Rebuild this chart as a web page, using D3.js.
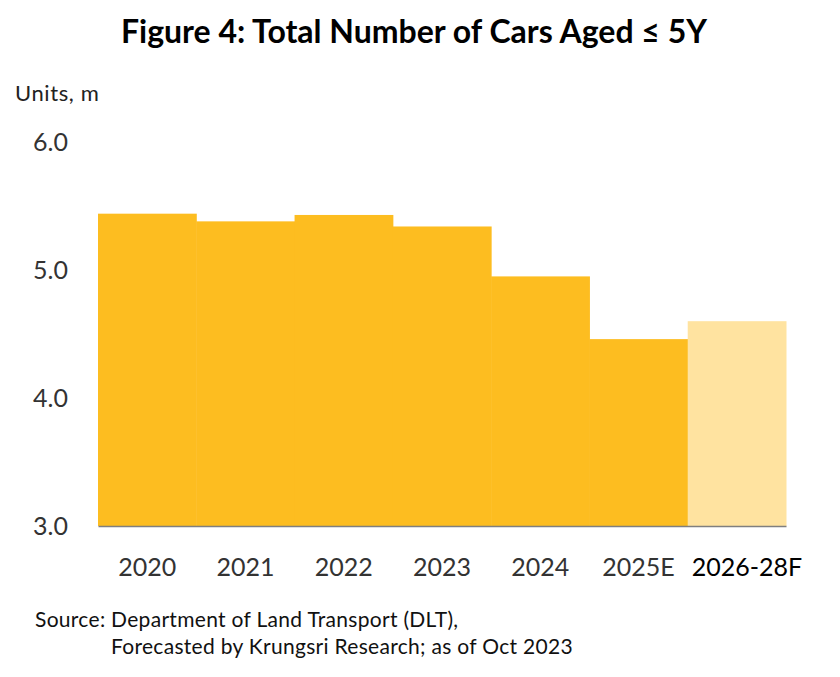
<!DOCTYPE html>
<html>
<head>
<meta charset="utf-8">
<script src="https://cdn.jsdelivr.net/npm/d3@7"></script>
<style>
  body { margin: 0; background: #fff; }
  svg { display: block; font-family: Lato, "Open Sans", sans-serif; }
</style>
</head>
<body>
<svg id="chart"></svg>
<script>
// data
const categories = ["2020", "2021", "2022", "2023", "2024", "2025E", "2026-28F"];
const values = [5.44, 5.38, 5.43, 5.34, 4.95, 4.46, 4.60];
const forecast = [false, false, false, false, false, false, true];
const yTicks = [3, 4, 5, 6];

const width = 840, height = 677;
const margin = {top: 142, right: 54, bottom: 151, left: 98};

const svg = d3.select("#chart").attr("width", width).attr("height", height);

const x = d3.scaleBand()
    .domain(categories)
    .range([margin.left, width - margin.right])
    .padding(0);

const y = d3.scaleLinear()
    .domain([3, 6])
    .range([height - margin.bottom, margin.top]);

// title
svg.append("text")
    .attr("x", 414).attr("y", 43)
    .attr("text-anchor", "middle")
    .attr("font-size", 32).attr("font-weight", "bold")
    .attr("fill", "#000")
    .text("Figure 4: Total Number of Cars Aged \u2264 5Y");

svg.append("text")
    .attr("x", 15).attr("y", 101)
    .attr("font-size", 22).attr("fill", "#222")
    .attr("letter-spacing", 0.6)
    .text("Units, m");

// bars
svg.append("g").selectAll("rect")
    .data(values)
    .enter()
    .append("rect")
    .attr("x", (d, i) => x(categories[i]))
    .attr("width", x.bandwidth() + 0.5)
    .attr("y", d => y(d))
    .attr("height", d => y(3) - y(d))
    .attr("fill", (d, i) => forecast[i] ? "#FFE3A0" : "#FDBD20");

// y axis (labels only)
const yAxis = d3.axisLeft(y).tickValues(yTicks).tickFormat(d3.format(".1f")).tickSize(0).tickPadding(30);
svg.append("g")
    .attr("transform", `translate(${margin.left},0)`)
    .call(yAxis)
    .call(g => g.select(".domain").remove())
    .selectAll("text")
    .attr("font-size", 25)
    .attr("font-family", "Lato, sans-serif")
    .attr("fill", "#333");

// x axis
const xAxis = d3.axisBottom(x).tickSize(0).tickPadding(32);
svg.append("g")
    .attr("transform", `translate(0,${y(3)})`)
    .call(xAxis)
    .call(g => g.select(".domain").attr("stroke", "#7f7f7f").attr("stroke-width", 1.5))
    .selectAll("text")
    .attr("font-size", 25)
    .attr("font-family", "Lato, sans-serif")
    .attr("dx", (d, i) => forecast[i] ? 10 : 0)
    .attr("fill", (d, i) => forecast[i] ? "#000" : "#333");

// source
svg.append("text")
    .attr("x", 35).attr("y", 627)
    .attr("font-size", 21).attr("fill", "#111")
    .attr("letter-spacing", 0.3)
    .text("Source: Department of Land Transport (DLT),");
svg.append("text")
    .attr("x", 111).attr("y", 654)
    .attr("font-size", 21).attr("fill", "#111")
    .attr("letter-spacing", 0.3)
    .text("Forecasted by Krungsri Research; as of Oct 2023");
</script>
</body>
</html>
